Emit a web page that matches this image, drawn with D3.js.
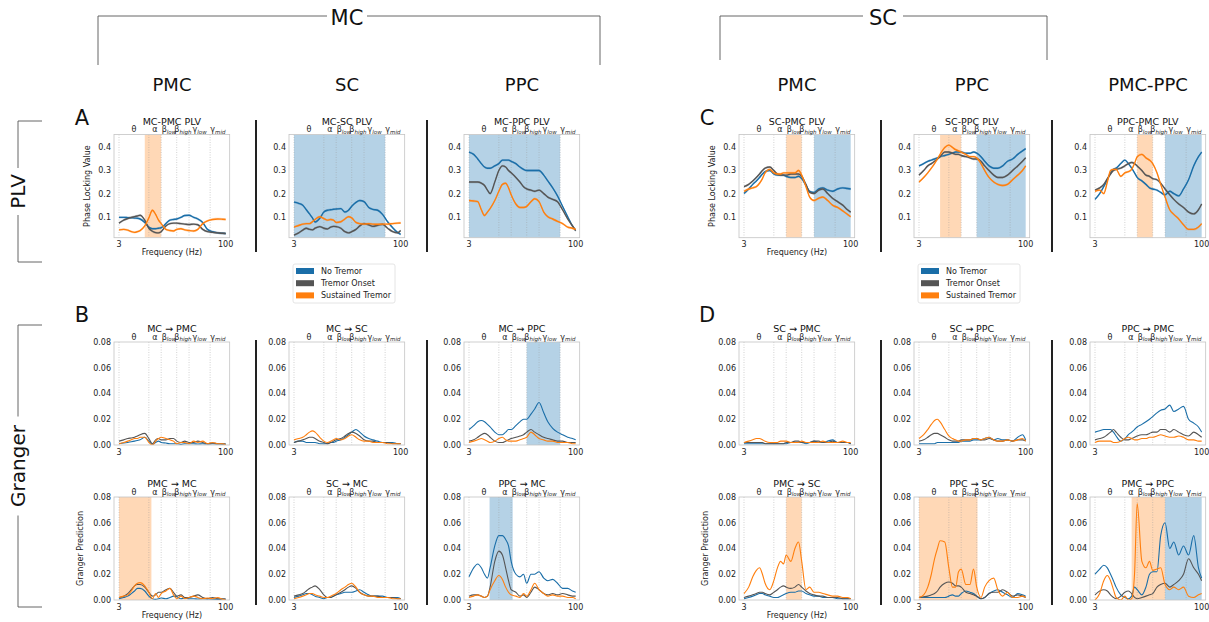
<!DOCTYPE html>
<html><head><meta charset="utf-8">
<script src="https://cdn.jsdelivr.net/npm/d3@7"></script>
<style>body{margin:0;background:#fff} svg{display:block;font-family:"DejaVu Sans",sans-serif}</style>
</head><body><svg id="c" width="1209" height="622"></svg>
<script>
// ---------- data ----------
const freqs = [3,3.5,4,4.5,5,5.5,6,7,8,9,10,11,12,14,16,18,20,23,26,30,35,40,47,55,65,77,90,100];
const bandEdges = [3,8,12,20,30,60,100];
const bandLabels = [["θ",""],["α",""],["β","low"],["β","high"],["γ","low"],["γ","mid"]];
const conditions = ["No Tremor","Tremor Onset","Sustained Tremor"];
const plvTicks = [0.1,0.2,0.3,0.4];
const grangerTicks = [0,0.02,0.04,0.06,0.08];
const freqTicks = [3,100];
const groupLabels = ["MC","SC"];
const columnLabels = ["PMC","SC","PPC","PMC","PPC","PMC-PPC"];
const rowLabels = ["PLV","Granger"];
const panelLetters = ["A","B","C","D"];

// PLV
const mcPmcPlvNone = [.097,.097,.096,.095,.094,.093,.09,.075,.055,.048,.048,.05,.052,.07,.085,.088,.09,.097,.105,.106,.097,.09,.075,.045,.035,.03,.028,.027];
const mcPmcPlvOnset = [.072,.085,.092,.097,.1,.103,.106,.085,.05,.037,.031,.03,.035,.06,.07,.072,.072,.07,.068,.066,.068,.065,.045,.035,.032,.03,.028,.027];
const mcPmcPlvSust = [.043,.045,.042,.035,.032,.035,.04,.06,.095,.128,.11,.085,.07,.045,.04,.038,.045,.048,.043,.04,.038,.045,.07,.082,.088,.09,.089,.088];

const mcScPlvNone = [.163,.158,.15,.13,.112,.095,.077,.093,.12,.128,.13,.132,.133,.135,.12,.128,.145,.162,.17,.165,.14,.132,.128,.11,.078,.052,.032,.023];
const mcScPlvOnset = [.02,.03,.042,.05,.045,.043,.05,.057,.05,.047,.055,.058,.057,.05,.035,.03,.035,.045,.06,.07,.065,.058,.063,.067,.05,.035,.03,.04];
const mcScPlvSust = [.055,.062,.068,.07,.07,.078,.088,.1,.092,.085,.088,.085,.075,.078,.09,.1,.095,.075,.07,.068,.07,.068,.067,.068,.068,.07,.072,.073];

const mcPpcPlvNone = [.38,.37,.35,.33,.315,.31,.31,.32,.33,.345,.345,.345,.34,.33,.315,.305,.3,.3,.3,.3,.28,.255,.225,.19,.145,.1,.06,.04];
const mcPpcPlvOnset = [.25,.25,.25,.245,.235,.215,.2,.25,.3,.32,.315,.3,.29,.27,.25,.23,.22,.215,.21,.215,.2,.185,.175,.165,.13,.09,.06,.04];
const mcPpcPlvSust = [.17,.168,.165,.13,.105,.12,.135,.17,.21,.24,.245,.225,.195,.155,.14,.14,.145,.165,.178,.165,.12,.1,.09,.08,.07,.055,.05,.045];

const scPmcPlvNone = [.2,.22,.24,.255,.27,.285,.295,.3,.285,.28,.28,.28,.275,.27,.27,.275,.265,.235,.21,.205,.22,.225,.215,.21,.22,.225,.222,.22];
const scPmcPlvOnset = [.23,.24,.255,.27,.285,.3,.31,.315,.3,.285,.28,.28,.28,.285,.285,.285,.275,.24,.205,.2,.215,.22,.2,.18,.165,.15,.13,.12];
const scPmcPlvSust = [.21,.22,.225,.23,.245,.265,.29,.305,.29,.285,.285,.29,.29,.29,.29,.3,.28,.23,.185,.17,.18,.185,.17,.15,.14,.125,.11,.1];

const scPpcPlvNone = [.32,.33,.34,.345,.35,.355,.36,.365,.37,.375,.38,.38,.38,.375,.375,.38,.375,.36,.34,.32,.31,.31,.32,.34,.35,.37,.385,.395];
const scPpcPlvOnset = [.28,.3,.32,.33,.34,.35,.36,.38,.38,.375,.37,.37,.365,.36,.355,.35,.35,.34,.32,.3,.28,.27,.27,.28,.3,.32,.34,.355];
const scPpcPlvSust = [.25,.27,.29,.31,.33,.35,.37,.4,.41,.4,.39,.385,.38,.37,.36,.36,.355,.33,.3,.27,.25,.24,.235,.24,.26,.28,.3,.32];

const ppcPmcPlvNone = [.175,.2,.23,.26,.29,.305,.31,.33,.345,.33,.31,.29,.27,.255,.24,.225,.22,.215,.205,.195,.21,.2,.19,.22,.26,.32,.36,.38];
const ppcPmcPlvOnset = [.215,.225,.24,.265,.285,.3,.305,.31,.32,.33,.335,.33,.32,.3,.28,.275,.265,.26,.245,.22,.195,.175,.155,.14,.12,.112,.13,.155];
const ppcPmcPlvSust = [.21,.215,.2,.25,.3,.305,.305,.275,.29,.295,.305,.33,.36,.37,.355,.345,.33,.29,.24,.185,.13,.11,.09,.065,.045,.045,.055,.07];

// Granger, top row
const mcToPmcNone = [.001,.0015,.002,.0025,.003,.0035,.004,.006,.003,.0005,.002,.003,.002,.0015,.001,.001,.001,.0005,.001,.001,.001,.0008,.001,.0008,.001,.0008,.0006,.0005];
const mcToPmcOnset = [.003,.004,.005,.0055,.006,.007,.008,.009,.005,.001,.004,.005,.004,.004,.005,.005,.003,.002,.003,.002,.002,.003,.002,.001,.0015,.001,.001,.001];
const mcToPmcSust = [.001,.002,.003,.004,.005,.005,.006,.006,.002,0,.003,.005,.006,.005,.004,.003,.001,.002,.002,.001,.003,.002,.003,.001,.002,.001,.001,0];

const mcToScNone = [.002,.003,.003,.002,.002,.002,.002,.001,.001,.001,.002,.002,.003,.004,.006,.008,.01,.012,.01,.007,.005,.004,.003,.002,.002,.002,.001,.001];
const mcToScOnset = [.002,.003,.004,.005,.006,.006,.005,.003,.002,.001,.002,.003,.004,.005,.007,.009,.01,.009,.007,.004,.003,.003,.002,.002,.002,.001,.001,.001];
const mcToScSust = [.004,.005,.006,.008,.01,.011,.01,.006,.003,.002,.003,.004,.005,.004,.005,.007,.008,.006,.004,.003,.003,.002,.002,.002,.001,.001,.001,.001];

const mcToPpcNone = [.012,.015,.018,.019,.018,.016,.014,.01,.008,.008,.01,.012,.012,.015,.018,.02,.02,.024,.028,.033,.025,.018,.013,.01,.008,.006,.005,.004];
const mcToPpcOnset = [.003,.004,.006,.008,.009,.008,.006,.003,.002,.002,.003,.004,.005,.006,.007,.008,.01,.012,.01,.008,.006,.005,.004,.003,.003,.002,.002,.002];
const mcToPpcSust = [.002,.003,.004,.005,.004,.003,.002,.003,.005,.006,.004,.003,.003,.003,.004,.005,.006,.01,.008,.005,.004,.003,.003,.002,.002,.002,.001,.001];

const scToPmcNone = [.001,.001,.001,.001,.001,.001,.001,.001,.001,.001,.001,.001,.001,.002,.002,.002,.002,.001,.002,.003,.002,.002,.003,.004,.002,.002,.002,.001];
const scToPmcOnset = [.002,.002,.002,.002,.002,.002,.001,.001,.001,.001,.001,.001,.002,.002,.003,.003,.002,.002,.002,.003,.003,.002,.002,.003,.002,.002,.002,.001];
const scToPmcSust = [.002,.003,.004,.005,.005,.004,.003,.002,.002,.002,.003,.003,.003,.002,.002,.002,.003,.002,.002,.002,.002,.003,.002,.002,.002,.003,.002,.002];

const scToPpcNone = [.001,.001,.001,.001,.001,.002,.002,.002,.002,.002,.002,.002,.003,.003,.003,.004,.004,.004,.005,.006,.004,.005,.004,.004,.003,.006,.008,.004];
const scToPpcOnset = [.003,.004,.006,.008,.009,.009,.008,.006,.004,.003,.003,.003,.004,.004,.004,.005,.005,.004,.004,.005,.004,.003,.003,.004,.003,.004,.004,.003];
const scToPpcSust = [.005,.008,.012,.016,.019,.02,.018,.012,.007,.005,.004,.003,.003,.004,.004,.005,.005,.004,.005,.006,.004,.003,.003,.004,.003,.004,.005,.003];

const ppcToPmcNone = [.01,.011,.012,.012,.012,.01,.007,.003,.005,.008,.01,.012,.014,.016,.018,.02,.022,.025,.027,.028,.031,.026,.028,.03,.02,.017,.014,.01];
const ppcToPmcOnset = [.004,.005,.006,.008,.01,.012,.01,.006,.004,.004,.005,.006,.007,.008,.008,.009,.01,.01,.012,.012,.01,.012,.01,.008,.007,.01,.008,.006];
const ppcToPmcSust = [.002,.003,.003,.003,.003,.002,.002,.003,.005,.006,.005,.004,.004,.005,.005,.006,.006,.007,.008,.007,.006,.006,.007,.006,.004,.004,.003,.003];

// Granger, bottom row
const pmcToMcNone = [.001,.002,.003,.005,.007,.009,.009,.007,.003,.001,.0005,.001,.0015,.001,.002,.003,.0025,.001,.0015,.001,.001,.0008,.001,.0008,.0006,.0005,.0005,.0004];
const pmcToMcOnset = [.002,.003,.005,.008,.011,.012,.012,.01,.006,.003,.004,.006,.006,.008,.009,.006,.003,.004,.002,.002,.003,.004,.002,.001,.002,.001,.001,.001];
const pmcToMcSust = [.002,.003,.004,.007,.011,.013,.0135,.011,.006,.001,.005,.002,.005,.007,.009,.004,.001,.003,.001,.002,.003,.002,.001,.0015,.001,.002,.0005,0];

const scToMcNone = [.002,.003,.004,.005,.005,.004,.003,.002,.001,.002,.002,.003,.004,.005,.006,.006,.006,.007,.008,.006,.004,.003,.003,.003,.002,.002,.002,.001];
const scToMcOnset = [.003,.004,.005,.007,.009,.01,.011,.008,.004,.002,.002,.003,.004,.006,.008,.01,.011,.009,.006,.004,.003,.003,.003,.002,.002,.002,.001,.001];
const scToMcSust = [.001,.002,.003,.004,.005,.005,.004,.003,.002,.002,.003,.004,.005,.008,.01,.012,.013,.01,.006,.004,.003,.003,.002,.002,.002,.001,.001,.001];

const ppcToMcNone = [.018,.025,.028,.025,.02,.017,.025,.042,.05,.05,.047,.042,.03,.02,.018,.02,.013,.02,.02,.022,.017,.015,.016,.013,.009,.009,.007,.006];
const ppcToMcOnset = [.003,.004,.004,.003,.002,.003,.01,.03,.038,.035,.025,.015,.008,.006,.003,.004,.002,.006,.01,.008,.005,.004,.005,.004,.005,.004,.003,.003];
const ppcToMcSust = [.002,.003,.004,.003,.002,.003,.008,.015,.019,.016,.01,.006,.004,.003,.002,.005,.003,.008,.013,.008,.005,.003,.004,.003,.003,.002,.002,.001];

const pmcToScNone = [.001,.002,.003,.004,.005,.005,.004,.003,.002,.002,.003,.004,.005,.006,.006,.007,.007,.005,.004,.003,.003,.002,.002,.002,.001,.001,.001,.001];
const pmcToScOnset = [.002,.003,.004,.005,.006,.006,.005,.004,.006,.008,.01,.011,.01,.009,.01,.012,.01,.007,.005,.004,.003,.003,.002,.002,.002,.001,.001,.001];
const pmcToScSust = [.005,.01,.018,.023,.025,.02,.013,.008,.015,.025,.03,.028,.035,.03,.04,.045,.03,.008,.01,.006,.006,.005,.004,.003,.003,.002,.002,.001];

const ppcToScNone = [.002,.002,.002,.002,.002,.002,.002,.002,.003,.004,.003,.003,.005,.007,.006,.005,.003,.001,.002,.005,.007,.008,.006,.004,.002,.005,.004,.003];
const ppcToScOnset = [.002,.0025,.003,.004,.005,.007,.01,.013,.014,.013,.011,.011,.01,.006,.005,.004,.003,.001,.002,.005,.006,.006,.008,.006,.003,.004,.003,.002];
const ppcToScSust = [.002,.004,.01,.02,.032,.04,.046,.045,.025,.01,.01,.022,.024,.012,.012,.024,.01,.002,.01,.015,.017,.008,.003,.006,.002,.002,.003,.002];

const pmcToPpcNone = [.02,.024,.027,.025,.02,.015,.01,.004,.002,.001,.003,.01,.008,.004,.01,.02,.022,.022,.05,.06,.04,.045,.035,.042,.035,.05,.025,.017];
const pmcToPpcOnset = [.004,.007,.008,.007,.004,.002,.001,.003,.006,.007,.005,.002,.001,.002,.003,.004,.005,.01,.012,.013,.01,.012,.015,.02,.032,.025,.02,.015];
const pmcToPpcSust = [0,.005,.015,.019,.015,.008,.002,0,.003,0,.001,.02,.075,.03,.025,.03,.023,.024,.025,.012,.008,.01,.008,.01,.003,.002,.004,.005];

// ---------- panels ----------
const panels = [
  {row:0,col:0,title:"MC-PMC PLV",kind:"plv",s:[mcPmcPlvNone,mcPmcPlvOnset,mcPmcPlvSust],spans:[[7,12,1]],xl:true,yl:true},
  {row:0,col:1,title:"MC-SC PLV",kind:"plv",s:[mcScPlvNone,mcScPlvOnset,mcScPlvSust],spans:[[3,60,0]]},
  {row:0,col:2,title:"MC-PPC PLV",kind:"plv",s:[mcPpcPlvNone,mcPpcPlvOnset,mcPpcPlvSust],spans:[[3,60,0]]},
  {row:0,col:3,title:"SC-PMC PLV",kind:"plv",s:[scPmcPlvNone,scPmcPlvOnset,scPmcPlvSust],spans:[[12,20,1],[30,100,0]],xl:true,yl:true},
  {row:0,col:4,title:"SC-PPC PLV",kind:"plv",s:[scPpcPlvNone,scPpcPlvOnset,scPpcPlvSust],spans:[[6,12,1],[20,100,0]]},
  {row:0,col:5,title:"PPC-PMC PLV",kind:"plv",s:[ppcPmcPlvNone,ppcPmcPlvOnset,ppcPmcPlvSust],spans:[[12,20,1],[30,100,0]]},
  {row:1,col:0,title:"MC → PMC",kind:"gc",s:[mcToPmcNone,mcToPmcOnset,mcToPmcSust],spans:[]},
  {row:1,col:1,title:"MC → SC",kind:"gc",s:[mcToScNone,mcToScOnset,mcToScSust],spans:[]},
  {row:1,col:2,title:"MC → PPC",kind:"gc",s:[mcToPpcNone,mcToPpcOnset,mcToPpcSust],spans:[[20,60,0]]},
  {row:1,col:3,title:"SC → PMC",kind:"gc",s:[scToPmcNone,scToPmcOnset,scToPmcSust],spans:[]},
  {row:1,col:4,title:"SC → PPC",kind:"gc",s:[scToPpcNone,scToPpcOnset,scToPpcSust],spans:[]},
  {row:1,col:5,title:"PPC → PMC",kind:"gc",s:[ppcToPmcNone,ppcToPmcOnset,ppcToPmcSust],spans:[]},
  {row:2,col:0,title:"PMC → MC",kind:"gc",s:[pmcToMcNone,pmcToMcOnset,pmcToMcSust],spans:[[3,8.7,1]],xl:true,yl:true},
  {row:2,col:1,title:"SC → MC",kind:"gc",s:[scToMcNone,scToMcOnset,scToMcSust],spans:[]},
  {row:2,col:2,title:"PPC → MC",kind:"gc",s:[ppcToMcNone,ppcToMcOnset,ppcToMcSust],spans:[[5.9,12.6,0]]},
  {row:2,col:3,title:"PMC → SC",kind:"gc",s:[pmcToScNone,pmcToScOnset,pmcToScSust],spans:[[12,20,1]],xl:true,yl:true},
  {row:2,col:4,title:"PPC → SC",kind:"gc",s:[ppcToScNone,ppcToScOnset,ppcToScSust],spans:[[3,20.5,1]]},
  {row:2,col:5,title:"PMC → PPC",kind:"gc",s:[pmcToPpcNone,pmcToPpcOnset,pmcToPpcSust],spans:[[10,30,1],[30,100,0]]}
];

// ---------- layout & style ----------
const colors = ["#1a6ea8","#555555","#ff7f0e"];
const spanColors = ["#1f77b4","#ff7f0e"];
const spanOpacity = [0.33,0.3];
const colX3 = [119,294,469,744,919,1095];
const decadePx = 70.05;
const rowBox = [[134.5,237.7],[342,445],[497,600]];
const svg = d3.select("#c");
const FONT = '"DejaVu Sans", sans-serif';

panels.forEach(p => {
  const x3 = colX3[p.col];
  const x = d3.scaleLog().domain([3,100]).range([x3, x3 + decadePx*Math.log10(100/3)]);
  const left = x3 - 5, right = x(100) + 4;
  const [top, bottom] = rowBox[p.row];
  const y = p.kind === "plv"
    ? d3.scaleLinear().domain([0.009,0.456]).range([bottom, top])
    : d3.scaleLinear().domain([0,0.08]).range([bottom, top]);
  const g = svg.append("g");
  const clipId = "clip" + p.row + "_" + p.col;
  g.append("clipPath").attr("id", clipId).append("rect")
    .attr("x", left).attr("y", top).attr("width", right-left).attr("height", bottom-top);
  const inner = g.append("g").attr("clip-path", `url(#${clipId})`);
  p.spans.forEach(([a,b,c]) => {
    inner.append("rect").attr("x", x(a)).attr("y", top).attr("width", x(b)-x(a)).attr("height", bottom-top)
      .attr("fill", spanColors[c]).attr("fill-opacity", spanOpacity[c]);
  });
  bandEdges.slice(0,6).forEach(e => {
    inner.append("line").attr("x1", x(e)).attr("x2", x(e)).attr("y1", top).attr("y2", bottom)
      .attr("stroke", "#9a9a9a").attr("stroke-opacity", 0.75).attr("stroke-width", 0.6).attr("stroke-dasharray", "1,1.5");
  });
  const curve = d3.curveMonotoneX;
  p.s.forEach((vals, i) => {
    if (p.kind === "plv") {
      const area = d3.area().x((d,j) => x(freqs[j])).y0(d => y(d - 0.005)).y1(d => y(d + 0.005)).curve(curve);
      inner.append("path").attr("d", area(vals)).attr("fill", colors[i]).attr("fill-opacity", 0.3);
    }
    const line = d3.line().x((d,j) => x(freqs[j])).y(d => y(d)).curve(curve);
    inner.append("path").attr("d", line(vals)).attr("fill", "none").attr("stroke", colors[i])
      .attr("stroke-width", p.kind === "plv" ? 1.4 : 1.1);
  });
  g.append("rect").attr("x", left).attr("y", top).attr("width", right-left).attr("height", bottom-top)
    .attr("fill", "none").attr("stroke", "#c4c4c4").attr("stroke-width", 0.8);
  const ticks = p.kind === "plv" ? plvTicks : grangerTicks;
  const fmt = p.kind === "plv" ? d3.format(".1f") : d3.format(".2f");
  ticks.forEach(t => {
    g.append("text").attr("x", left - 3).attr("y", y(t) + 2.9).attr("text-anchor", "end")
      .attr("font-size", 8).attr("fill", "#222").text(fmt(t));
  });
  freqTicks.forEach(t => {
    g.append("text").attr("x", x(t)).attr("y", bottom + 9.5).attr("text-anchor", "middle")
      .attr("font-size", 8).attr("fill", "#222").text(t);
  });
  bandLabels.forEach(([b, sub], k) => {
    const c = Math.sqrt(bandEdges[k]*bandEdges[k+1]);
    const t = g.append("text").attr("x", x(c)).attr("y", top - 2.5).attr("text-anchor", "middle")
      .attr("font-size", 8).attr("fill", "#222");
    t.append("tspan").text(b);
    if (sub) t.append("tspan").attr("font-size", 5.5).attr("font-style", "italic").attr("dy", 1.5).text(sub);
  });
  g.append("text").attr("x", (left+right)/2).attr("y", top - 10).attr("text-anchor", "middle")
    .attr("font-size", 9.5).attr("fill", "#111").text(p.title);
  if (p.xl) g.append("text").attr("x", (left+right)/2).attr("y", bottom + 17.5).attr("text-anchor", "middle")
    .attr("font-size", 8).attr("fill", "#222").text("Frequency (Hz)");
  if (p.yl) {
    const lx = left - (p.kind === "plv" ? 24 : 31), ly = (top+bottom)/2;
    g.append("text").attr("transform", `translate(${lx},${ly}) rotate(-90)`).attr("text-anchor", "middle")
      .attr("font-size", 8).attr("fill", "#222").text(p.kind === "plv" ? "Phase Locking Value" : "Granger Prediction");
  }
});

// group headers
const hdr = svg.append("g").attr("font-family", FONT);
[[98,600,347,groupLabels[0],65],[720,1047,883,groupLabels[1],60]].forEach(([a,b,c,lab,yb]) => {
  hdr.append("path").attr("d", `M${a},${yb}V16H${c-20}M${c+20},16H${b}V${yb}`)
    .attr("fill","none").attr("stroke","#555").attr("stroke-width",0.9);
  hdr.append("text").attr("x", c).attr("y", 25).attr("text-anchor","middle").attr("font-size",21).attr("fill","#111").text(lab);
});
const colCenters = colX3.map(v => v + 53);
columnLabels.forEach((lab,i) => {
  hdr.append("text").attr("x", colCenters[i]).attr("y", 91).attr("text-anchor","middle").attr("font-size",18).attr("fill","#111").text(lab);
});
[[82,125],[82,322],[707,125],[707,322]].forEach(([px,py],i) => {
  hdr.append("text").attr("x", px).attr("y", py).attr("text-anchor","middle").attr("font-size",21).attr("fill","#111").text(panelLetters[i]);
});
[[121,262,rowLabels[0]],[325,607,rowLabels[1]]].forEach(([a,b,lab]) => {
  const m = (a+b)/2, half = lab.length*6.5 + 4;
  hdr.append("path").attr("d", `M42,${a}H18V${m-half}M18,${m+half}V${b}H42`)
    .attr("fill","none").attr("stroke","#555").attr("stroke-width",0.9);
  hdr.append("text").attr("transform", `translate(25,${m}) rotate(-90)`).attr("text-anchor","middle")
    .attr("font-size",20).attr("fill","#111").text(lab);
});
[[256,120,252],[427,120,252],[881,120,252],[1052,120,252],[256,340,605],[427,340,605],[881,340,605],[1052,340,605]].forEach(([sx,a,b]) => {
  svg.append("line").attr("x1",sx).attr("x2",sx).attr("y1",a).attr("y2",b).attr("stroke","#222").attr("stroke-width",2);
});
[293,918].forEach(lx => {
  const lg = svg.append("g").attr("font-family", FONT);
  lg.append("rect").attr("x", lx).attr("y", 264).attr("width", 102).attr("height", 39).attr("rx", 2)
    .attr("fill","#fff").attr("stroke","#dddddd").attr("stroke-width",0.8);
  conditions.forEach((c,i) => {
    lg.append("rect").attr("x", lx+3).attr("y", 268 + i*12.2).attr("width", 18).attr("height", 6).attr("fill", colors[i]);
    lg.append("text").attr("x", lx+28).attr("y", 274 + i*12.2).attr("font-size", 8).attr("fill","#222").text(c);
  });
});
</script></body></html>
